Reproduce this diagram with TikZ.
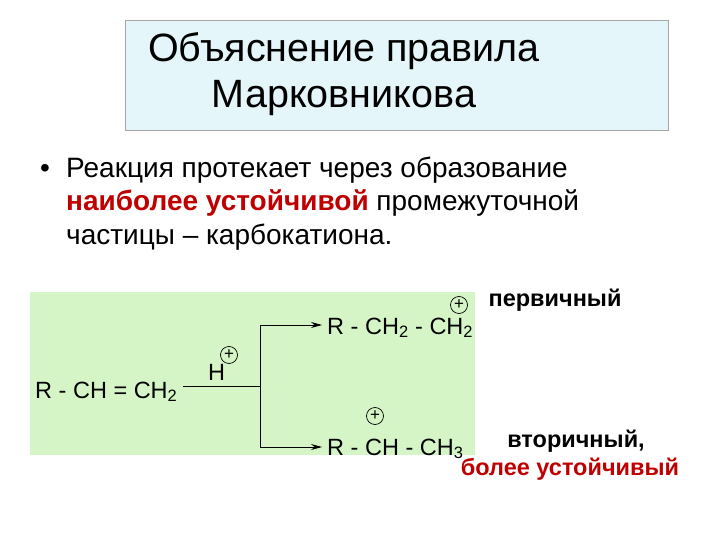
\documentclass[tikz,border=0pt]{standalone}
\usepackage{fontspec}
\usetikzlibrary{arrows.meta}
\setmainfont{Liberation Sans}
\definecolor{tbox}{HTML}{E4F6FA}
\definecolor{gbox}{HTML}{D6F5C6}
\definecolor{myred}{HTML}{C00000}
\begin{document}
\begin{tikzpicture}[x=1pt,y=-1pt,
  ttl/.style={font=\fontsize{39.5}{44}\selectfont,anchor=center},
  txt/.style={font=\fontsize{28}{32}\selectfont,anchor=base west,inner sep=0},
  chem/.style={font=\fontsize{23.5}{28}\selectfont,anchor=base west,inner sep=0},
  lab/.style={font=\bfseries\fontsize{23.5}{28}\selectfont,inner sep=0},
  plus/.style={circle,draw,line width=0.7pt,inner sep=0,minimum size=17pt,font=\fontsize{17}{17}\selectfont},
  arr/.style={-{Stealth[length=11pt,width=6pt]},line width=0.9pt}]
\useasboundingbox (0,0) rectangle (720,540);
\fill[white] (0,0) rectangle (720,540);
\node[draw=gray!70,fill=tbox,minimum width=543pt,minimum height=110pt,anchor=north west] (tb) at (125,20) {};
\node[ttl] (t1) at (344,51) {Объяснение правила};
\node[ttl] (t2) at (344,98) {Марковникова};
\node[txt] (b) at (40,178) {•};
\node[txt] (l1) at (66,178) {Реакция протекает через образование};
\node[txt] (l2) at (66,211) {\textcolor{myred}{\bfseries наиболее устойчивой} промежуточной};
\node[txt] (l3) at (66,244) {частицы – карбокатиона.};
\fill[gbox] (30,292) rectangle (475,455);
\node[chem] (r) at (35,398) {R - CH = CH\textsubscript{2}};
\node[chem] (h) at (208,380) {H};
\node[plus] (hp) at (229,355) {+};
\coordinate (s) at (183,386);
\coordinate (j) at (260,386);
\coordinate (jt) at (260,325);
\coordinate (jb) at (260,447);
\coordinate (et) at (322,325);
\coordinate (eb) at (322,447);
\draw[line width=0.9pt] (s) -- (j);
\draw[line width=0.9pt] (jt) -- (jb);
\draw[arr] (jt) -- (et);
\draw[arr] (jb) -- (eb);
\node[chem] (p1) at (327,334) {R - CH\textsubscript{2} - CH\textsubscript{2}};
\node[plus] (p1p) at (459,305) {+};
\node[chem] (p2) at (327,455) {R - CH - CH\textsubscript{3}};
\node[plus] (p2p) at (375,416) {+};
\node[lab] (a1) at (555,300) {первичный};
\node[lab] (a2) at (576,441) {вторичный,};
\node[lab,text=myred] (a3) at (570,469) {более устойчивый};
\end{tikzpicture}
\end{document}
